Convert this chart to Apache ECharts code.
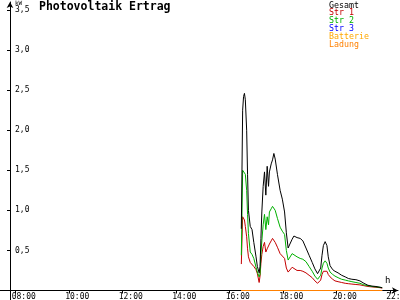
<!DOCTYPE html>
<html><head><meta charset="utf-8">
<script src="https://cdn.jsdelivr.net/npm/echarts@6/dist/echarts.min.js"></script>
<style>html,body{margin:0;padding:0;background:#fff}#c{width:400px;height:300px}</style>
</head><body><div id="c"></div>
<script>
const chartTitle = 'Photovoltaik Ertrag';
const yUnit = 'kW';
const xUnit = 'h';
const seriesNames = ['Gesamt', 'Str 1', 'Str 2', 'Str 3', 'Batterie', 'Ladung'];
const seriesColors = ['#000000', '#c40000', '#00b000', '#0000ff', '#ffa800', '#ff8000'];

const times = ['16:26','16:29','16:31','16:33','16:35','16:38','16:40','16:42','16:46','16:50',
  '16:54','16:59','17:02','17:06','17:08','17:10','17:12','17:15','17:18','17:21',
  '17:24','17:27','17:29','17:33','17:36','17:39','17:42','17:47','17:53','17:58',
  '18:03','18:07','18:11','18:15','18:20','18:24','18:31','18:38','18:44','18:51',
  '18:58','19:05','19:11','19:17','19:20','19:24','19:27','19:30','19:34','19:38',
  '19:41','19:45','19:51','19:56','20:03','20:11','20:19','20:26','20:34','20:43',
  '20:52','21:01','21:10','21:19','21:28','21:37','21:42'];
const gesamt = [0.77,2.25,2.42,2.46,2.38,2.00,1.45,1.00,0.80,0.76,
  0.60,0.42,0.30,0.22,0.30,0.65,0.98,1.30,1.48,1.19,
  1.55,1.30,1.48,1.58,1.63,1.71,1.64,1.45,1.25,1.14,
  0.98,0.72,0.53,0.58,0.64,0.68,0.66,0.65,0.62,0.53,
  0.44,0.35,0.27,0.21,0.19,0.28,0.44,0.56,0.61,0.56,
  0.42,0.31,0.26,0.24,0.22,0.19,0.17,0.15,0.14,0.135,
  0.12,0.09,0.065,0.055,0.05,0.04,0.035];
const str1 = [0.33,0.92,0.90,0.88,0.80,0.67,0.52,0.42,0.35,0.33,
  0.30,0.26,0.21,0.10,0.18,0.34,0.45,0.55,0.60,0.48,
  0.52,0.50,0.58,0.62,0.65,0.64,0.60,0.54,0.46,0.43,
  0.40,0.28,0.23,0.25,0.29,0.27,0.25,0.25,0.24,0.22,
  0.19,0.16,0.12,0.09,0.08,0.13,0.20,0.24,0.26,0.24,
  0.20,0.17,0.14,0.12,0.11,0.10,0.09,0.085,0.08,0.075,
  0.07,0.06,0.05,0.045,0.04,0.035,0.03];
const str2 = [0.44,1.50,1.48,1.52,1.45,1.25,0.95,0.71,0.48,0.45,
  0.40,0.29,0.23,0.17,0.20,0.45,0.62,0.82,0.95,0.76,
  0.92,0.82,0.98,1.02,1.05,1.06,1.00,0.90,0.79,0.74,
  0.70,0.50,0.38,0.40,0.46,0.45,0.42,0.40,0.39,0.36,
  0.30,0.24,0.18,0.14,0.12,0.19,0.28,0.34,0.37,0.34,
  0.28,0.23,0.20,0.18,0.16,0.14,0.13,0.12,0.11,0.10,
  0.09,0.07,0.06,0.05,0.045,0.04,0.035];
const flatTimes = ['16:26', '21:42'];
const str3 = [0, 0];
const batterie = [0, 0];
const ladung = [0, 0];

const xTickHours = [8, 10, 12, 14, 16, 18, 20, 22];
const yTickValues = [0.5, 1, 1.5, 2, 2.5, 3, 3.5];

function toHours(t) { const p = t.split(':'); return +p[0] + (+p[1]) / 60; }
function pairs(ts, vs) { return ts.map((t, i) => [toHours(t), vs[i]]); }

const seriesData = [
  pairs(flatTimes, str3),
  pairs(times, str1),
  pairs(times, str2),
  pairs(times, gesamt),
  pairs(flatTimes, batterie),
  pairs(flatTimes, ladung)
];
const seriesIdx = [3, 1, 2, 0, 4, 5];

const mono = 'DejaVu Sans Mono';
const chart = echarts.init(document.getElementById('c'), null, { renderer: 'canvas' });

const legendTexts = seriesNames.map((n, i) => ({
  type: 'text', left: 329, top: 1.5 + i * 7.8,
  style: { text: n, fill: seriesColors[i], font: '8.3px "' + mono + '"' }
}));

chart.setOption({
  animation: false,
  backgroundColor: '#ffffff',
  grid: { left: 0, right: 2, top: 2, bottom: 9.5, containLabel: false, outerBoundsMode: 'none' },
  xAxis: {
    type: 'value', min: 7.413, max: 22.29, z: 1,
    axisLine: { show: true, onZero: false, symbol: ['none', 'arrow'], symbolSize: [5, 6], lineStyle: { color: '#000', width: 1 } },
    axisTick: { show: true, customValues: xTickHours, length: 3, inside: false, lineStyle: { color: '#000' } },
    axisLabel: { show: true, customValues: xTickHours, margin: 2, align: 'left', padding: [0, 0, 0, -4],
      color: '#000', fontFamily: mono, fontSize: 8,
      formatter: v => (v < 10 ? '0' : '') + v + ':00' },
    splitLine: { show: false }
  },
  yAxis: {
    type: 'value', min: 0, max: 3.6, offset: -10, z: 1,
    axisLine: { show: true, onZero: false, symbol: ['none', 'arrow'], symbolSize: [5, 6], lineStyle: { color: '#000', width: 1 } },
    axisTick: { show: true, customValues: yTickValues, length: 3, lineStyle: { color: '#000' } },
    axisLabel: { show: true, customValues: yTickValues, inside: true, margin: 5, color: '#000', fontFamily: mono, fontSize: 8,
      formatter: v => v.toFixed(1).replace('.', ',') },
    splitLine: { show: false }
  },
  graphic: [
    { type: 'text', left: 39, top: 1, style: { text: chartTitle, fill: '#000', font: 'bold 11.5px "' + mono + '"' } },
    { type: 'text', left: 15, top: 0, style: { text: yUnit, fill: '#000', font: '6px "' + mono + '"' } },
    { type: 'text', left: 385, top: 276, style: { text: xUnit, fill: '#000', font: '9px "' + mono + '"' } },
    { type: 'line', shape: { x1: 10.5, y1: 290, x2: 10.5, y2: 300 }, style: { stroke: '#000', lineWidth: 1 } }
  ].concat(legendTexts),
  series: seriesData.map((d, k) => ({
    type: 'line', name: seriesNames[seriesIdx[k]], data: d, showSymbol: false, symbol: 'none',
    lineStyle: { color: seriesColors[seriesIdx[k]], width: 1 }, itemStyle: { color: seriesColors[seriesIdx[k]] },
    z: 3 + k
  }))
});
</script></body></html>
